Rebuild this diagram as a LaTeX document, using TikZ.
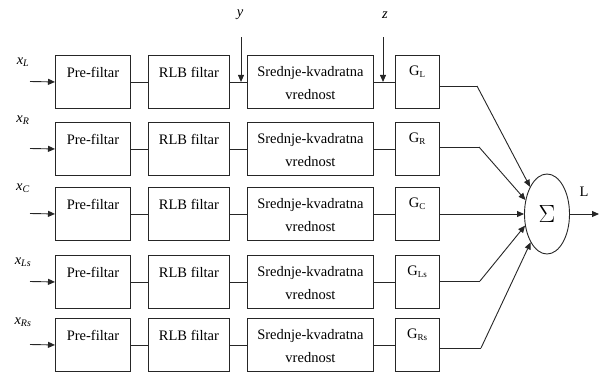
\documentclass[tikz,border=0pt]{standalone}
\usepackage{fontspec}
\setmainfont{Liberation Serif}
\newfontfamily\sumfont{Liberation Sans}
\usetikzlibrary{shapes.geometric,arrows.meta}
\begin{document}
\begin{tikzpicture}[x=1pt,y=-1pt,
  wire/.style={draw=black!85,line width=0.9pt},
  arr/.style={wire,-{Triangle[length=7pt,width=6pt]}},
  blk/.style={draw=black!85,line width=0.9pt,rectangle,minimum height=53pt,inner sep=0pt,anchor=north west},
  txt/.style={font=\fontsize{14.5}{23}\selectfont,inner sep=0pt,align=center},
  gtxt/.style={font=\fontsize{14.5}{16}\selectfont,inner sep=0pt},
  lbl/.style={font=\fontsize{14.5}{16}\selectfont\itshape,inner sep=0pt}]
\useasboundingbox (0,0) rectangle (601,372);
% rows
\foreach \r/\t/\ly/\xs in {1/55/62/L,2/122/120/R,3/187/188/C,4/255/262/Ls,5/318/322/Rs}{
  \node[blk,minimum width=75pt] (P\r) at (55,\t) {};
  \node[blk,minimum width=81pt] (R\r) at (148,\t) {};
  \node[blk,minimum width=126pt] (S\r) at (247,\t) {};
  \node[blk,minimum width=44pt] (G\r) at (395,\t) {};
  \node[txt] (Pt\r) at ([yshift=-17pt]P\r.north) {Pre-filtar};
  \node[txt] (Rt\r) at ([yshift=-17pt]R\r.north) {RLB filtar};
  \node[txt] (St\r) at ([yshift=-28pt]S\r.north) {Srednje-kvadratna\\vrednost};
  \node[gtxt] (Gt\r) at ([yshift=-17pt]G\r.north) {G\textsubscript{\fontsize{9}{10}\selectfont\xs}};
  \node[lbl] (X\r) at (23,\ly) {x\textsubscript{\fontsize{10}{10}\selectfont\xs}};
  \coordinate (in\r) at (30,\t+26.5);
  \draw[arr] (in\r) -- (P\r.west);
  \draw[wire] (P\r.east) -- (R\r.west);
  \draw[wire] (R\r.east) -- (S\r.west);
  \draw[wire] (S\r.east) -- (G\r.west);
}
% summing node
\node[draw=black!85,line width=0.9pt,ellipse,minimum width=45pt,minimum height=80pt,inner sep=0pt] (Sum) at (547,214) {\sumfont\fontsize{24}{24}\selectfont $\Sigma$};
% G to sum
\coordinate (k1) at (477,86);
\coordinate (k2) at (479,147);
\coordinate (k4) at (480,281);
\coordinate (k5) at (481,348);
\draw[wire] (G1.east |- k1) -- (k1);
\draw[arr] (k1) -- (Sum.122);
\draw[wire] (G2.east |- k2) -- (k2);
\draw[arr] (k2) -- (Sum.147);
\draw[arr] (G3.east |- Sum.west) -- (Sum.west);
\draw[wire] (G4.east |- k4) -- (k4);
\draw[arr] (k4) -- (Sum.208);
\draw[wire] (G5.east |- k5) -- (k5);
\draw[arr] (k5) -- (Sum.240);
% output
\coordinate (out) at (599,214);
\draw[arr] (Sum.east) -- (out);
\node[gtxt] (Lout) at (584,192) {L};
% y and z taps
\node[lbl] (ylab) at (240,15) {y};
\node[lbl] (zlab) at (385,15) {z};
\coordinate (ytop) at (241,37);
\coordinate (ztop) at (383,37);
\draw[arr] (ytop) -- (ytop |- R1.east);
\draw[arr] (ztop) -- (ztop |- S1.east);
\end{tikzpicture}
\end{document}
